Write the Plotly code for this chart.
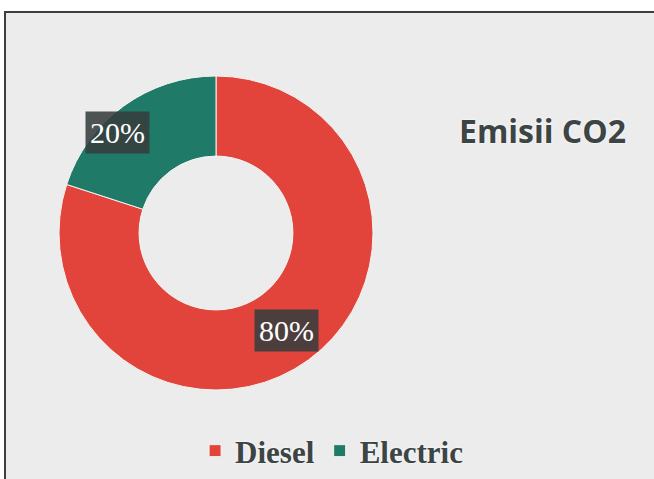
import math
import plotly.graph_objects as go

labels = ["Diesel", "Electric"]
values = [80, 20]
colors = ["#e2433b", "#1f7a68"]

W, H = 654, 479
# pie domain in pixels (left, right, top, bottom)
px_l, px_r, px_t, px_b = 58, 374, 76, 390
hole = 0.49
# where the percentage boxes sit (pixels)
label_pos = [(286, 330), (117, 132)]

fig = go.Figure()
fig.add_trace(go.Pie(
    labels=labels, values=values, hole=hole, sort=False,
    direction="clockwise", rotation=0,
    marker=dict(colors=colors, line=dict(color="#f4f4f4", width=1)),
    textinfo="none", hoverinfo="label+percent",
    domain=dict(x=[px_l / W, px_r / W], y=[1 - px_b / H, 1 - px_t / H]),
))

total = sum(values)
for v, (x, y) in zip(values, label_pos):
    fig.add_annotation(
        x=x / W, y=1 - y / H, xref="paper", yref="paper",
        xanchor="center", yanchor="middle",
        text=f"{round(v / total * 100)}%", showarrow=False,
        font=dict(family="Liberation Serif", size=30, color="white"),
        bgcolor="rgba(55,62,62,0.88)", borderpad=4,
    )

fig.add_annotation(
    x=542 / W, y=1 - 130 / H, xref="paper", yref="paper",
    xanchor="center", yanchor="middle",
    text="<b>Emisii CO2</b>", showarrow=False,
    font=dict(family="Open Sans", size=32, color="#3c4444", shadow="0 0 3px white"),
)

# frame
fig.add_shape(type="rect", xref="paper", yref="paper",
              x0=5 / W, x1=1.02, y0=-0.02, y1=1 - 12 / H,
              line=dict(color="#3a4040", width=2), fillcolor="#ececec", layer="below")

fig.update_layout(
    width=W, height=H,
    margin=dict(l=0, r=0, t=0, b=0),
    paper_bgcolor="white",
    showlegend=True,
    legend=dict(orientation="h", x=0.507, xanchor="center", y=1 - 451 / H, yanchor="middle",
                font=dict(family="Liberation Serif", size=31, color="#3c4444", weight="bold",
                          shadow="0 0 3px white"),
                bgcolor="rgba(0,0,0,0)"),
)

fig.write_html("out.html", config={"displayModeBar": False},
               post_script="document.body.style.margin='0';")
